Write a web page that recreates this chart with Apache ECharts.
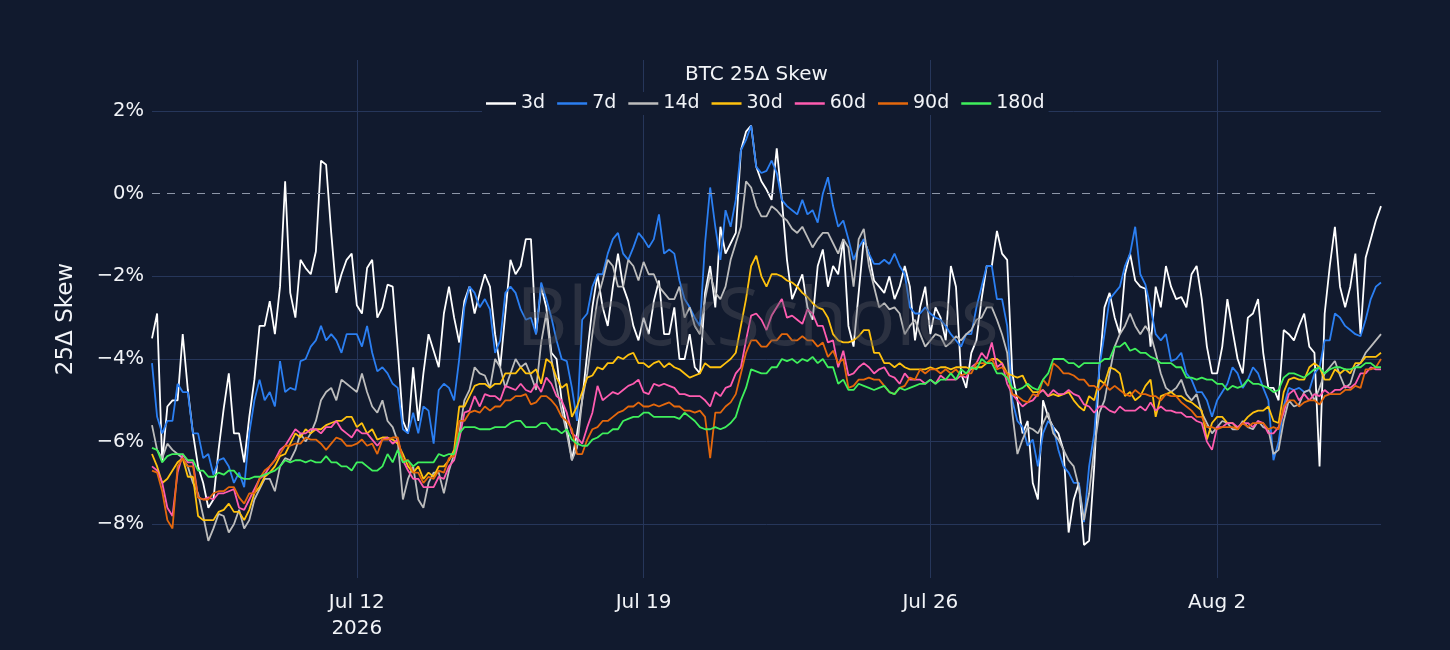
<!DOCTYPE html>
<html>
<head>
<meta charset="utf-8">
<title>BTC 25Δ Skew</title>
<script src="https://cdn.jsdelivr.net/npm/echarts@6/dist/echarts.min.js"></script>
<style>
  html, body { margin: 0; padding: 0; background: #111a2e; }
  #chart { width: 1450px; height: 650px; }
</style>
</head>
<body>
<div id="chart"></div>
<script>
// samples every 3 hours, Jul 7 2026 00:00 UTC .. Aug 6 2026 00:00 UTC (241 points)
// one row = two days
const startTime = Date.UTC(2026, 6, 7)
const stepHours = 3

const seriesNames = ['3d', '7d', '14d', '30d', '60d', '90d', '180d']
const seriesColors = ['#ffffff', '#2b7ff2', '#bdbdbd', '#ffc20e', '#ff5cb0', '#e5680c', '#3ff05c']

const skew3d = [
  -3.5, -2.9, -6.5, -5.15, -5.0, -5.0, -3.4, -4.75, -5.8, -6.6, -7.0, -7.6, -7.4, -6.2, -5.2, -4.35,
  -5.8, -5.8, -6.5, -5.4, -4.5, -3.2, -3.2, -2.6, -3.4, -2.25, 0.3, -2.4, -3.0, -1.6, -1.8, -1.95,
  -1.4, 0.8, 0.7, -0.95, -2.4, -1.95, -1.6, -1.45, -2.7, -2.9, -1.8, -1.6, -3.0, -2.75, -2.2, -2.25,
  -3.8, -5.5, -5.8, -4.2, -5.5, -4.35, -3.4, -3.8, -4.2, -2.9, -2.25, -3.0, -3.6, -2.6, -2.25, -2.9,
  -2.4, -1.95, -2.25, -3.4, -4.2, -2.9, -1.6, -1.95, -1.75, -1.1, -1.1, -3.4, -2.25, -2.75, -3.85, -4.0,
  -5.0, -5.65, -6.45, -5.8, -5.0, -3.85, -2.75, -1.95, -2.75, -3.2, -2.25, -1.45, -2.25, -2.6, -3.2, -3.55,
  -3.0, -3.4, -2.6, -2.1, -3.4, -3.4, -2.75, -4.0, -4.0, -3.4, -4.2, -4.35, -2.4, -1.75, -2.75, -0.8,
  -1.45, -1.2, -0.95, 1.05, 1.5, 1.65, 0.65, 0.3, 0.1, -0.15, 1.1, -0.15, -1.6, -2.55, -2.25, -1.95,
  -2.75, -3.05, -1.75, -1.35, -2.25, -1.75, -1.95, -1.1, -3.2, -3.7, -2.4, -1.1, -1.45, -2.1, -2.25, -2.4,
  -2.0, -2.55, -2.25, -1.75, -2.25, -3.55, -2.75, -2.25, -3.4, -2.75, -3.0, -3.55, -1.75, -2.25, -4.35, -4.7,
  -3.85, -3.55, -2.55, -1.75, -1.75, -0.9, -1.45, -1.6, -4.35, -5.0, -5.8, -5.5, -7.0, -7.4, -5.0, -5.4,
  -5.65, -5.8, -6.2, -8.2, -7.4, -7.0, -8.5, -8.4, -6.6, -4.2, -2.75, -2.4, -3.0, -3.4, -1.95, -1.45,
  -2.1, -2.25, -2.3, -3.7, -2.25, -2.75, -1.75, -2.25, -2.55, -2.5, -2.75, -1.95, -1.75, -2.55, -3.7, -4.35,
  -4.35, -3.7, -2.55, -3.3, -4.0, -4.35, -3.0, -2.9, -2.55, -3.85, -4.7, -4.7, -5.0, -3.3, -3.4, -3.55,
  -3.2, -2.9, -3.7, -3.85, -6.6, -2.9, -1.75, -0.8, -2.25, -2.75, -2.25, -1.45, -3.4, -1.55, -1.1, -0.65,
  -0.3
]
const skew7d = [
  -4.1, -5.4, -5.8, -5.5, -5.5, -4.6, -4.8, -4.8, -5.8, -5.8, -6.4, -6.3, -6.8, -6.45, -6.4, -6.6,
  -7.0, -6.75, -7.1, -5.8, -5.0, -4.5, -5.0, -4.8, -5.15, -4.05, -4.8, -4.7, -4.75, -4.05, -4.0, -3.7,
  -3.55, -3.2, -3.55, -3.4, -3.55, -3.85, -3.4, -3.4, -3.4, -3.7, -3.2, -3.85, -4.3, -4.2, -4.35, -4.6,
  -4.7, -5.7, -5.8, -5.3, -5.8, -5.15, -5.25, -6.05, -4.75, -4.6, -4.7, -5.0, -4.0, -2.75, -2.25, -2.4,
  -2.75, -2.55, -2.8, -3.85, -3.55, -2.4, -2.25, -2.4, -2.8, -3.05, -3.0, -3.4, -2.15, -2.55, -3.0, -3.55,
  -4.0, -4.05, -4.7, -5.5, -3.05, -2.9, -2.25, -1.95, -1.95, -1.45, -1.1, -0.95, -1.45, -1.6, -1.3, -0.95,
  -1.1, -1.3, -1.1, -0.5, -1.45, -1.35, -1.45, -2.1, -2.55, -2.75, -3.0, -3.2, -1.2, 0.15, -0.8, -1.6,
  -0.4, -0.8, -0.15, 1.05, 1.3, 1.65, 0.65, 0.5, 0.55, 0.8, 0.5, -0.15, -0.3, -0.4, -0.5, -0.15,
  -0.5, -0.4, -0.7, 0.0, 0.4, -0.3, -0.8, -0.65, -1.1, -1.6, -1.3, -1.1, -1.45, -1.7, -1.7, -1.6,
  -1.7, -1.45, -1.75, -1.95, -2.75, -2.9, -2.9, -2.75, -2.9, -3.0, -3.05, -3.2, -3.4, -3.55, -3.7, -3.4,
  -3.4, -2.75, -2.25, -1.75, -1.75, -2.55, -2.55, -3.2, -5.0, -5.5, -5.65, -6.1, -5.95, -6.6, -5.8, -5.5,
  -5.65, -6.2, -6.6, -6.75, -7.0, -7.0, -7.95, -6.6, -5.8, -4.2, -3.4, -2.55, -2.4, -2.25, -1.75, -1.45,
  -0.8, -1.95, -2.2, -2.75, -3.4, -3.55, -3.4, -4.05, -4.0, -3.85, -4.35, -4.5, -4.8, -4.8, -5.0, -5.4,
  -5.0, -4.8, -4.6, -4.2, -4.35, -4.7, -4.5, -4.2, -4.35, -4.7, -5.0, -6.45, -6.0, -5.15, -4.7, -4.75,
  -4.7, -4.8, -4.75, -4.35, -4.2, -3.55, -3.55, -2.9, -3.0, -3.2, -3.3, -3.4, -3.45, -3.05, -2.55, -2.25,
  -2.15
]
const skew14d = [
  -5.6, -6.2, -6.4, -6.05, -6.2, -6.3, -6.4, -6.6, -7.0, -7.25, -7.8, -8.4, -8.1, -7.75, -7.8, -8.2,
  -8.0, -7.65, -8.1, -7.9, -7.4, -7.15, -6.9, -6.9, -7.2, -6.6, -6.4, -6.45, -6.2, -5.8, -6.0, -5.8,
  -5.5, -5.0, -4.8, -4.7, -5.0, -4.5, -4.6, -4.7, -4.8, -4.35, -4.8, -5.15, -5.3, -5.0, -5.5, -5.65,
  -6.0, -7.4, -6.9, -6.6, -7.4, -7.6, -7.0, -6.75, -6.75, -7.25, -6.7, -6.3, -5.8, -5.0, -4.75, -4.2,
  -4.35, -4.4, -4.7, -4.0, -4.2, -4.7, -4.35, -4.0, -4.2, -4.1, -4.4, -4.75, -3.6, -2.9, -4.0, -4.7,
  -5.25, -5.8, -6.45, -6.15, -5.0, -4.35, -3.4, -2.55, -2.1, -1.6, -1.75, -2.25, -2.25, -1.6, -1.75, -2.1,
  -1.65, -1.95, -1.95, -2.25, -2.4, -2.55, -2.55, -2.25, -3.0, -2.75, -3.2, -3.4, -2.55, -1.95, -2.4, -2.55,
  -2.25, -1.6, -1.2, -0.8, 0.3, 0.15, -0.3, -0.55, -0.55, -0.3, -0.4, -0.55, -0.65, -0.85, -0.95, -0.8,
  -1.05, -1.3, -1.1, -0.95, -0.95, -1.2, -1.45, -1.1, -1.3, -2.25, -1.1, -0.85, -1.75, -2.25, -2.75, -2.65,
  -2.8, -2.75, -2.9, -3.4, -3.2, -3.05, -3.4, -3.7, -3.55, -3.4, -3.45, -3.7, -3.6, -3.45, -3.55, -3.4,
  -3.3, -3.05, -3.0, -2.75, -2.75, -3.05, -3.4, -3.85, -5.3, -6.3, -5.95, -5.65, -5.7, -5.8, -5.55, -5.3,
  -5.8, -5.95, -6.2, -6.45, -6.6, -7.1, -7.9, -7.25, -6.15, -5.3, -5.0, -4.35, -3.7, -3.4, -3.2, -2.9,
  -3.2, -3.4, -3.2, -3.4, -3.85, -4.35, -4.7, -4.8, -4.7, -4.5, -4.85, -5.0, -4.85, -5.3, -5.55, -5.8,
  -5.65, -5.5, -5.55, -5.7, -5.7, -5.5, -5.65, -5.7, -5.5, -5.65, -5.7, -6.3, -6.2, -5.5, -5.0, -5.15,
  -5.1, -4.8, -4.75, -5.0, -4.7, -4.35, -4.2, -4.05, -4.4, -4.7, -4.6, -4.2, -4.1, -3.85, -3.7, -3.55,
  -3.4
]
const skew30d = [
  -6.3, -6.6, -7.0, -6.9, -6.7, -6.5, -6.4, -6.85, -6.85, -7.8, -7.9, -7.9, -7.9, -7.7, -7.65, -7.5,
  -7.7, -7.7, -7.9, -7.65, -7.25, -7.1, -6.85, -6.75, -6.6, -6.35, -6.3, -6.05, -5.8, -5.9, -5.7, -5.8,
  -5.7, -5.7, -5.6, -5.55, -5.5, -5.5, -5.4, -5.4, -5.65, -5.55, -5.8, -5.7, -5.95, -5.9, -5.9, -5.95,
  -6.05, -6.3, -6.6, -6.75, -6.6, -6.9, -6.75, -6.85, -6.6, -6.6, -6.45, -6.2, -5.15, -5.15, -4.9, -4.65,
  -4.6, -4.6, -4.7, -4.6, -4.6, -4.35, -4.35, -4.35, -4.2, -4.35, -4.35, -4.25, -4.6, -4.0, -4.1, -4.45,
  -4.7, -4.6, -5.4, -5.15, -4.8, -4.45, -4.4, -4.2, -4.25, -4.1, -4.1, -3.95, -4.0, -3.9, -3.85, -4.1,
  -4.1, -4.2, -4.1, -4.05, -4.2, -4.1, -4.2, -4.25, -4.35, -4.45, -4.4, -4.35, -4.1, -4.2, -4.2, -4.2,
  -4.1, -4.0, -3.85, -3.2, -2.55, -1.75, -1.5, -2.0, -2.25, -1.95, -1.95, -2.0, -2.1, -2.15, -2.25, -2.4,
  -2.5, -2.65, -2.75, -2.8, -3.0, -3.4, -3.55, -3.6, -3.6, -3.55, -3.45, -3.3, -3.3, -3.85, -3.85, -4.1,
  -4.1, -4.2, -4.1, -4.2, -4.25, -4.25, -4.25, -4.25, -4.2, -4.25, -4.2, -4.2, -4.25, -4.2, -4.2, -4.2,
  -4.25, -4.2, -4.2, -4.1, -4.0, -4.0, -4.1, -4.35, -4.4, -4.45, -4.4, -4.65, -4.8, -4.8, -4.75, -4.9,
  -4.85, -4.9, -4.85, -4.8, -5.0, -5.15, -5.25, -4.9, -5.0, -4.5, -4.6, -4.2, -4.25, -4.35, -4.9, -4.8,
  -5.0, -4.9, -4.65, -4.5, -5.4, -4.9, -4.85, -4.8, -4.9, -4.9, -5.0, -5.05, -5.15, -5.25, -5.95, -5.55,
  -5.4, -5.4, -5.55, -5.55, -5.7, -5.55, -5.4, -5.3, -5.25, -5.25, -5.15, -5.5, -5.55, -4.8, -4.5, -4.45,
  -4.5, -4.5, -4.2, -4.1, -4.2, -4.5, -4.5, -4.25, -4.35, -4.25, -4.35, -4.1, -4.1, -3.95, -3.95, -3.95,
  -3.85
]
const skew60d = [
  -6.6, -6.7, -7.0, -7.6, -7.8, -6.75, -6.3, -6.5, -6.5, -7.35, -7.4, -7.35, -7.4, -7.25, -7.25, -7.2,
  -7.15, -7.6, -7.65, -7.4, -7.15, -6.9, -6.8, -6.6, -6.45, -6.2, -6.1, -5.9, -5.7, -5.8, -5.8, -5.7,
  -5.7, -5.8, -5.65, -5.65, -5.5, -5.7, -5.8, -5.9, -5.7, -5.8, -5.8, -5.95, -6.1, -5.95, -5.9, -6.05,
  -5.95, -6.45, -6.7, -6.9, -6.9, -7.1, -7.1, -7.1, -6.85, -6.9, -6.6, -6.45, -5.95, -5.3, -5.25, -4.9,
  -5.15, -4.85, -4.9, -4.9, -5.0, -4.65, -4.7, -4.75, -4.6, -4.75, -4.8, -4.6, -4.8, -4.45, -4.6, -4.9,
  -5.0, -5.3, -5.8, -5.9, -6.05, -5.65, -5.3, -4.65, -5.0, -4.9, -4.8, -4.85, -4.75, -4.65, -4.6, -4.5,
  -4.8, -4.85, -4.6, -4.65, -4.6, -4.65, -4.7, -4.85, -4.85, -4.9, -4.9, -4.9, -5.0, -5.15, -4.8, -4.9,
  -4.7, -4.65, -4.35, -4.2, -3.55, -2.95, -2.9, -3.05, -3.3, -2.95, -2.75, -2.55, -3.0, -2.95, -3.05, -3.15,
  -2.8, -2.9, -3.2, -3.2, -3.6, -3.55, -4.2, -3.8, -4.4, -4.35, -4.2, -4.1, -4.2, -4.35, -4.25, -4.2,
  -4.4, -4.45, -4.6, -4.35, -4.5, -4.5, -4.5, -4.6, -4.5, -4.6, -4.4, -4.5, -4.5, -4.5, -4.4, -4.45,
  -4.2, -4.1, -3.85, -4.0, -3.6, -4.2, -4.1, -4.6, -4.85, -5.0, -5.15, -5.05, -5.0, -4.85, -4.75, -4.9,
  -4.75, -4.85, -4.85, -4.75, -4.85, -4.9, -5.1, -5.15, -5.3, -5.15, -5.15, -5.25, -5.3, -5.15, -5.25, -5.25,
  -5.25, -5.15, -5.25, -5.05, -5.25, -5.15, -5.25, -5.25, -5.3, -5.3, -5.4, -5.4, -5.5, -5.55, -6.0, -6.2,
  -5.65, -5.65, -5.55, -5.55, -5.65, -5.55, -5.55, -5.65, -5.5, -5.55, -5.8, -5.8, -5.65, -5.3, -4.85, -4.75,
  -5.0, -4.85, -5.0, -4.85, -4.9, -4.75, -4.85, -4.75, -4.75, -4.65, -4.7, -4.6, -4.35, -4.35, -4.2, -4.25,
  -4.25
]
const skew90d = [
  -6.7, -6.75, -7.2, -7.9, -8.1, -6.6, -6.4, -6.6, -6.6, -7.35, -7.4, -7.4, -7.25, -7.2, -7.2, -7.1,
  -7.1, -7.35, -7.5, -7.25, -7.25, -6.9, -6.7, -6.6, -6.45, -6.3, -6.1, -6.1, -6.05, -6.05, -5.9, -5.95,
  -5.95, -6.05, -6.2, -6.05, -5.9, -5.95, -6.1, -6.1, -6.05, -5.95, -6.1, -6.05, -6.3, -5.95, -5.95, -5.9,
  -5.9, -6.45, -6.45, -6.75, -6.75, -7.0, -6.85, -6.9, -6.7, -6.75, -6.4, -6.35, -5.5, -5.5, -5.3, -5.25,
  -5.3, -5.15, -5.25, -5.15, -5.15, -5.0, -5.0, -4.9, -4.9, -4.85, -5.1, -5.05, -4.9, -4.9, -5.0, -5.15,
  -5.4, -5.5, -5.7, -6.3, -6.3, -5.95, -5.7, -5.65, -5.5, -5.5, -5.4, -5.3, -5.25, -5.15, -5.15, -5.05,
  -5.15, -5.15, -5.1, -5.15, -5.1, -5.05, -5.15, -5.15, -5.25, -5.25, -5.3, -5.25, -5.4, -6.4, -5.3, -5.3,
  -5.15, -5.05, -4.85, -4.35, -3.85, -3.55, -3.55, -3.7, -3.7, -3.55, -3.55, -3.4, -3.4, -3.55, -3.55, -3.45,
  -3.55, -3.55, -3.7, -3.6, -3.95, -3.8, -4.1, -4.0, -4.7, -4.65, -4.5, -4.5, -4.45, -4.5, -4.5, -4.65,
  -4.8, -4.85, -4.7, -4.65, -4.45, -4.5, -4.25, -4.35, -4.25, -4.25, -4.35, -4.25, -4.35, -4.25, -4.4, -4.35,
  -4.35, -4.1, -4.1, -4.1, -4.0, -4.25, -4.2, -4.35, -4.85, -4.9, -5.0, -5.05, -4.85, -4.9, -4.5, -4.65,
  -4.1, -4.2, -4.35, -4.35, -4.4, -4.5, -4.5, -4.65, -4.65, -4.75, -4.6, -4.75, -4.65, -4.75, -4.85, -4.9,
  -4.75, -4.85, -4.85, -4.9, -4.9, -5.0, -4.85, -4.9, -4.9, -5.05, -5.15, -5.25, -5.4, -5.4, -5.65, -5.65,
  -5.7, -5.65, -5.65, -5.65, -5.7, -5.55, -5.65, -5.55, -5.55, -5.55, -5.7, -5.65, -5.7, -5.15, -5.0, -5.0,
  -5.15, -5.05, -5.0, -5.0, -5.1, -4.9, -4.85, -4.85, -4.85, -4.75, -4.75, -4.65, -4.7, -4.25, -4.25, -4.2,
  -4.0
]
const skew180d = [
  -6.15, -6.2, -6.5, -6.35, -6.3, -6.3, -6.3, -6.45, -6.45, -6.7, -6.7, -6.85, -6.85, -6.75, -6.8, -6.7,
  -6.7, -6.85, -6.9, -6.9, -6.85, -6.85, -6.8, -6.75, -6.7, -6.6, -6.45, -6.5, -6.45, -6.45, -6.5, -6.45,
  -6.5, -6.5, -6.35, -6.5, -6.5, -6.6, -6.6, -6.7, -6.5, -6.5, -6.6, -6.7, -6.7, -6.6, -6.3, -6.5,
  -6.2, -6.5, -6.45, -6.6, -6.5, -6.5, -6.5, -6.5, -6.3, -6.35, -6.3, -6.3, -5.8, -5.65, -5.65, -5.65,
  -5.7, -5.7, -5.7, -5.65, -5.65, -5.65, -5.55, -5.5, -5.5, -5.65, -5.65, -5.65, -5.55, -5.55, -5.7, -5.7,
  -5.8, -5.7, -5.95, -6.05, -6.1, -6.1, -5.95, -5.9, -5.8, -5.8, -5.7, -5.7, -5.5, -5.45, -5.4, -5.4,
  -5.3, -5.3, -5.4, -5.4, -5.4, -5.4, -5.4, -5.45, -5.3, -5.4, -5.5, -5.65, -5.7, -5.7, -5.65, -5.7,
  -5.65, -5.55, -5.4, -5.0, -4.7, -4.25, -4.3, -4.35, -4.35, -4.2, -4.2, -4.0, -4.05, -4.0, -4.1, -4.0,
  -4.05, -3.95, -4.1, -4.0, -4.2, -4.2, -4.6, -4.5, -4.75, -4.75, -4.6, -4.65, -4.7, -4.75, -4.7, -4.65,
  -4.8, -4.85, -4.7, -4.75, -4.7, -4.65, -4.6, -4.6, -4.5, -4.6, -4.5, -4.5, -4.35, -4.5, -4.25, -4.35,
  -4.2, -4.25, -4.0, -4.1, -4.1, -4.35, -4.35, -4.45, -4.7, -4.75, -4.7, -4.6, -4.7, -4.75, -4.5, -4.35,
  -4.0, -4.0, -4.0, -4.1, -4.1, -4.2, -4.1, -4.1, -4.1, -4.1, -4.0, -4.0, -3.7, -3.7, -3.6, -3.8,
  -3.75, -3.85, -3.85, -3.95, -4.0, -4.1, -4.1, -4.1, -4.2, -4.2, -4.45, -4.45, -4.5, -4.45, -4.5, -4.5,
  -4.6, -4.6, -4.75, -4.65, -4.7, -4.65, -4.5, -4.6, -4.6, -4.65, -4.7, -4.8, -4.75, -4.45, -4.35, -4.35,
  -4.4, -4.45, -4.35, -4.25, -4.2, -4.35, -4.25, -4.2, -4.2, -4.25, -4.25, -4.2, -4.2, -4.1, -4.1, -4.2,
  -4.2
]
const seriesValues = [skew3d, skew7d, skew14d, skew30d, skew60d, skew90d, skew180d]

// axis ticks
const yTicks = [-8, -6, -4, -2, 0, 2]
const xTickDates = [Date.UTC(2026, 6, 12), Date.UTC(2026, 6, 19), Date.UTC(2026, 6, 26), Date.UTC(2026, 7, 2)]
const xTickLabels = ['Jul 12\n2026', 'Jul 19', 'Jul 26', 'Aug 2']
const endTime = Date.UTC(2026, 7, 6)

const FONT = '"DejaVu Sans", Verdana, sans-serif'
const TEXT = '#f2f4f8'
const GRID = '#26365a'

function toPoints(values) {
  return values.map((v, i) => [startTime + i * stepHours * 3600 * 1000, v])
}

const chart = echarts.init(document.getElementById('chart'), null, { renderer: 'canvas' })

const series = seriesNames.map((name, k) => ({
  name,
  type: 'line',
  data: toPoints(seriesValues[k]),
  showSymbol: false,
  symbol: 'none',
  lineStyle: { color: seriesColors[k], width: 1.8 },
  itemStyle: { color: seriesColors[k] },
  emphasis: { disabled: true },
  z: 2,
}))

// dashed zero line, under the curves
series[0].markLine = {
  silent: true,
  symbol: 'none',
  label: { show: false },
  lineStyle: { color: '#8d96a8', type: [8, 7], width: 1.2 },
  data: [{ yAxis: 0 }],
}

chart.setOption({
  backgroundColor: '#111a2e',
  animation: false,
  textStyle: { fontFamily: FONT },
  title: {
    text: 'BTC 25Δ Skew',
    left: 680,
    top: 60,
    textStyle: { color: TEXT, fontSize: 20, fontWeight: 'normal', fontFamily: FONT },
  },
  legend: {
    data: seriesNames,
    left: 482,
    top: 92,
    padding: [2, 4, 2, 4],
    backgroundColor: '#111a2e',
    icon: 'rect',
    itemWidth: 30,
    itemHeight: 2.5,
    itemGap: 12,
    textStyle: { color: TEXT, fontSize: 19, fontFamily: FONT },
    z: 10,
  },
  grid: { left: 152, right: 69, top: 60, bottom: 72, containLabel: false },
  xAxis: {
    type: 'value',
    min: startTime,
    max: endTime,
    axisLine: { show: false },
    axisTick: { show: false, customValues: xTickDates },
    splitLine: { show: true, lineStyle: { color: GRID, width: 1 } },
    axisLabel: {
      customValues: xTickDates,
      color: TEXT,
      fontSize: 20,
      lineHeight: 26,
      margin: 12,
      fontFamily: FONT,
      formatter: (val) => {
        const idx = xTickDates.indexOf(val)
        return idx >= 0 ? xTickLabels[idx] : ''
      },
    },
  },
  yAxis: {
    type: 'value',
    min: -9.3,
    max: 3.235,
    name: '25Δ Skew',
    nameLocation: 'middle',
    nameGap: 74,
    nameRotate: 90,
    nameTextStyle: { color: TEXT, fontSize: 23, fontFamily: FONT },
    axisLine: { show: false },
    axisTick: { show: false, customValues: yTicks.filter((v) => v !== 0) },
    splitLine: { show: true, lineStyle: { color: GRID, width: 1 } },
    axisLabel: {
      customValues: yTicks,
      color: TEXT,
      fontSize: 19.5,
      margin: 8,
      fontFamily: FONT,
      formatter: (v) => (v < 0 ? '\u2212' : '') + Math.abs(Math.round(v)) + '%',
    },
  },
  graphic: [{
    type: 'text',
    left: 516,
    top: 282,
    z: 100,
    silent: true,
    style: {
      text: 'BlockScholes',
      fontSize: 80,
      fontFamily: '"Open Sans", sans-serif',
      fill: 'rgba(82,86,96,0.4)',
    },
  }],
  series,
})
</script>
</body>
</html>
